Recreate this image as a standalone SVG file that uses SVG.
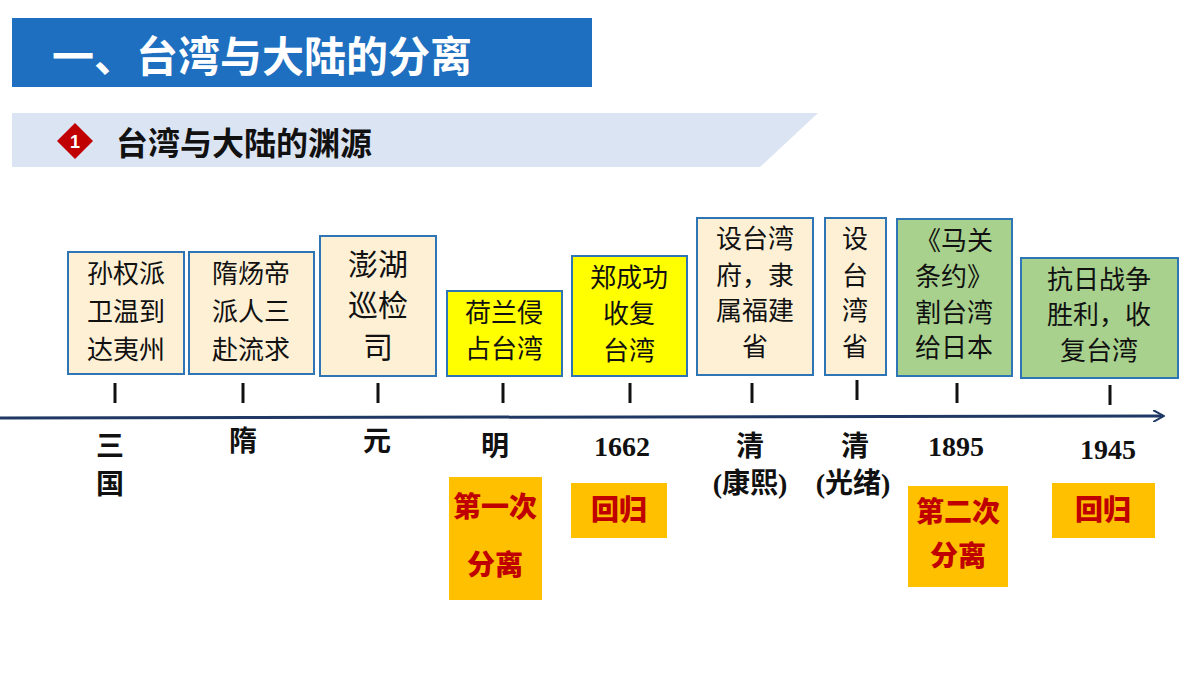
<svg xmlns="http://www.w3.org/2000/svg" width="1200" height="675" viewBox="0 0 1200 675">
<defs>
<style>
.t{font-family:"Liberation Serif","Noto Sans CJK SC",serif;font-size:26px;fill:#111;text-anchor:middle}
.d{font-family:"Liberation Serif","Noto Sans CJK SC",serif;font-size:28px;font-weight:bold;fill:#111;text-anchor:middle}
.r{font-family:"Noto Sans CJK SC",sans-serif;font-size:28px;font-weight:900;fill:#c00000;text-anchor:middle}
.bg{fill:#fdf0d5;stroke:#2e75b6;stroke-width:2}
.by{fill:#ffff00;stroke:#2e75b6;stroke-width:2}
.bn{fill:#a9d18e;stroke:#2e75b6;stroke-width:2}
.o{fill:#ffc000}
.tk{stroke:#111;stroke-width:3}
</style>
<marker id="a" markerWidth="12" markerHeight="12" refX="10" refY="6" orient="auto" markerUnits="userSpaceOnUse"><path d="M0,0 L11,6 L0,12" fill="none" stroke="#1f3864" stroke-width="2"/></marker>
</defs>
<rect width="1200" height="675" fill="#fff"/>
<g id="title"><rect x="12" y="18" width="580" height="69" fill="#1e6fc0"/>
<text x="52" y="72" font-family="Noto Sans CJK SC,sans-serif" font-size="42" font-weight="bold" fill="#fff">一、台湾与大陆的分离</text></g>
<g id="subtitle"><polygon points="12,113 818,113 760,167 12,167" fill="#dbe4f2"/>
<polygon points="75,123 93,141 75,159 57,141" fill="#c00000"/>
<text x="75" y="148" font-family="Liberation Sans,sans-serif" font-size="18" font-weight="bold" fill="#fff" text-anchor="middle">1</text>
<text x="116" y="155" font-family="Noto Sans CJK SC,sans-serif" font-size="32" font-weight="bold" fill="#111">台湾与大陆的渊源</text></g>
<g id="connectors">
<line x1="0" y1="418" x2="1163" y2="416" stroke="#1f3864" stroke-width="3" marker-end="url(#a)"/>
<line class="tk" x1="115" y1="383" x2="115" y2="403"/><line class="tk" x1="243" y1="383" x2="243" y2="403"/>
<line class="tk" x1="378" y1="383" x2="378" y2="403"/><line class="tk" x1="503" y1="383" x2="503" y2="403"/>
<line class="tk" x1="630" y1="383" x2="630" y2="403"/><line class="tk" x1="752" y1="383" x2="752" y2="403"/>
<line class="tk" x1="857" y1="380" x2="857" y2="400"/><line class="tk" x1="957" y1="383" x2="957" y2="403"/>
<line class="tk" x1="1110" y1="385" x2="1110" y2="405"/>
</g>
<g id="n1"><rect class="bg" x="68" y="252" width="116" height="122"/><text class="t" x="126" y="283">孙权派</text><text class="t" x="126" y="321">卫温到</text><text class="t" x="126" y="359">达夷州</text></g>
<g id="n2"><rect class="bg" x="189" y="252" width="125" height="122"/><text class="t" x="251" y="283">隋炀帝</text><text class="t" x="251" y="321">派人三</text><text class="t" x="251" y="359">赴流求</text></g>
<g id="n3"><rect class="bg" x="320" y="236" width="116" height="140"/><text class="t" x="378" y="275" style="font-size:30px">澎湖</text><text class="t" x="378" y="316" style="font-size:30px">巡检</text><text class="t" x="378" y="358" style="font-size:30px">司</text></g>
<g id="n4"><rect class="by" x="447" y="291" width="115" height="85"/><text class="t" x="504" y="322">荷兰侵</text><text class="t" x="504" y="358">占台湾</text></g>
<g id="n5"><rect class="by" x="572" y="256" width="115" height="120"/><text class="t" x="629" y="287">郑成功</text><text class="t" x="629" y="323">收复</text><text class="t" x="629" y="360">台湾</text></g>
<g id="n6"><rect class="bg" x="697" y="218" width="116" height="157"/><text class="t" x="755" y="248">设台湾</text><text class="t" x="755" y="285">府，隶</text><text class="t" x="755" y="320">属福建</text><text class="t" x="755" y="356">省</text></g>
<g id="n7"><rect class="bg" x="825" y="218" width="61" height="157"/><text class="t" x="855" y="248">设</text><text class="t" x="855" y="285">台</text><text class="t" x="855" y="320">湾</text><text class="t" x="855" y="356">省</text></g>
<g id="n8"><rect class="bn" x="897" y="219" width="115" height="157"/><text class="t" x="954" y="250">《马关</text><text class="t" x="954" y="286">条约》</text><text class="t" x="954" y="322">割台湾</text><text class="t" x="954" y="357">给日本</text></g>
<g id="n9"><rect class="bn" x="1021" y="258" width="157" height="120"/><text class="t" x="1099" y="289">抗日战争</text><text class="t" x="1099" y="324">胜利，收</text><text class="t" x="1099" y="360">复台湾</text></g>
<g id="labels">
<text class="d" x="110" y="456">三</text><text class="d" x="110" y="494">国</text>
<text class="d" x="243" y="451">隋</text><text class="d" x="377" y="451">元</text>
<text class="d" x="495" y="456">明</text><text class="d" x="622" y="456">1662</text>
<text class="d" x="750" y="456">清</text><text class="d" x="750" y="493">(康熙)</text>
<text class="d" x="855" y="456">清</text><text class="d" x="853" y="493">(光绪)</text>
<text class="d" x="956" y="456">1895</text><text class="d" x="1108" y="459">1945</text>
</g>
<g id="o1"><rect class="o" x="449" y="477" width="93" height="123"/><text class="r" x="495" y="517">第一次</text><text class="r" x="495" y="575">分离</text></g>
<g id="o2"><rect class="o" x="571" y="483" width="96" height="55"/><text class="r" x="619" y="520">回归</text></g>
<g id="o3"><rect class="o" x="908" y="486" width="100" height="101"/><text class="r" x="958" y="522">第二次</text><text class="r" x="958" y="566">分离</text></g>
<g id="o4"><rect class="o" x="1052" y="483" width="103" height="55"/><text class="r" x="1103" y="520">回归</text></g>
</svg>
